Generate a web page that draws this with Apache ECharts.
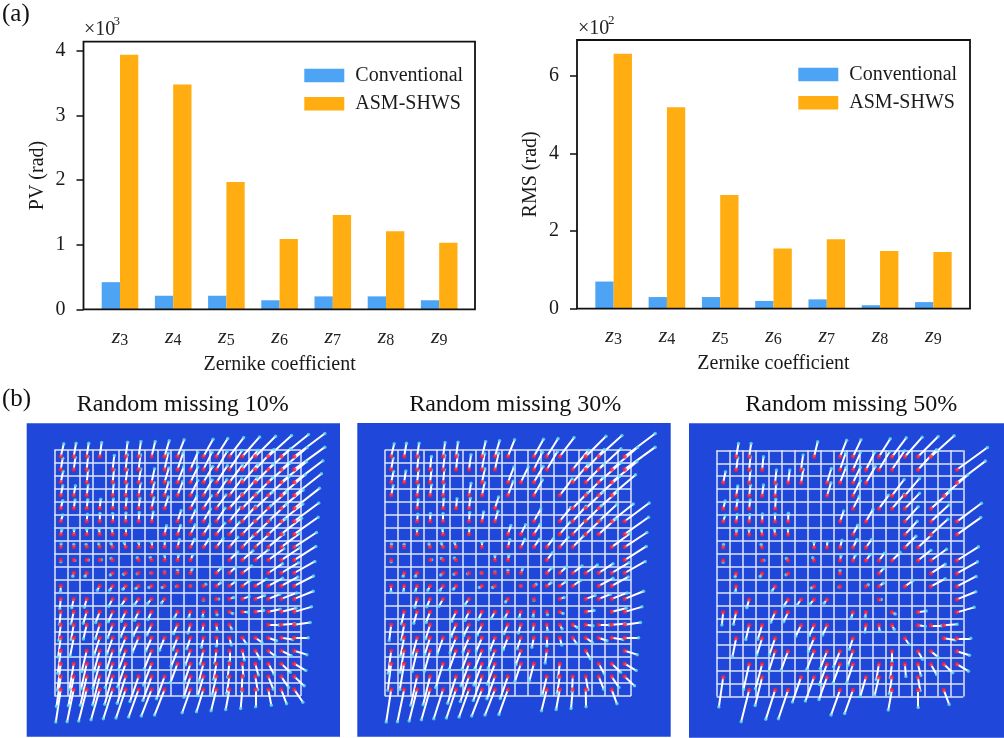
<!DOCTYPE html>
<html>
<head>
<meta charset="utf-8">
<style>html,body{margin:0;padding:0;background:#fff}#c{width:1004px;height:738px}</style>
<script src="https://cdn.jsdelivr.net/npm/echarts@6/dist/echarts.min.js"></script>
</head>
<body>
<div id="c"></div>
<script>
const zernike = ['3','4','5','6','7','8','9'];
const pvConventional = [0.42,0.21,0.21,0.14,0.20,0.20,0.14];
const pvAsm = [3.94,3.48,1.97,1.09,1.46,1.21,1.03];
const rmsConventional = [0.70,0.30,0.30,0.20,0.24,0.09,0.17];
const rmsAsm = [6.57,5.19,2.93,1.55,1.79,1.49,1.46];
const pvTicks = [0,1,2,3,4];
const rmsTicks = [0,2,4,6];

// Measured spot displacement per sub-aperture, 1 unit = 1/39 of a grid cell; +y is downwards.
const dxRows = [
[9,7,6,6,6,6,7,11,14,20,24,29,34,43,52,61,70,82,92],
[6,5,4,4,5,5,6,8,11,17,22,26,32,38,47,56,67,78,92],
[7,5,4,4,4,5,7,9,13,18,22,28,33,39,46,55,66,76,86],
[6,5,4,4,3,4,6,8,12,16,22,26,31,37,44,53,63,72,82],
[6,4,3,3,2,3,4,7,11,15,19,24,29,37,44,51,56,66,76],
[6,3,2,1,0,1,2,5,9,11,15,21,26,33,40,47,54,65,74],
[3,1,0,-2,-2,0,1,4,6,9,14,19,25,31,37,45,51,61,72],
[1,0,-2,-3,-5,-4,0,0,1,6,12,17,20,25,33,40,46,55,67],
[0,3,5,5,-5,-5,-4,-4,0,3,7,13,17,25,32,39,47,56,65],
[-1,-3,-5,-6,-7,-6,-4,-2,0,0,5,10,14,20,28,35,43,52,62],
[-1,-2,-5,-7,-9,-8,-8,-8,-7,-3,0,7,13,18,24,33,43,50,58],
[-3,-6,-7,-10,-12,-13,-12,-12,-9,-7,-3,0,7,13,20,28,35,46,57],
[-4,-8,-10,-12,-13,-13,-12,-11,-11,-9,-5,-2,2,10,16,25,36,44,52],
[-6,-8,-10,-13,-15,-15,-16,-14,-13,-12,-8,-3,2,7,14,22,32,40,48],
[-8,-11,-14,-16,-17,-18,-18,-17,-15,-14,-11,-6,0,6,12,20,25,34,42],
[-9,-12,-15,-17,-19,-21,-21,-22,-20,-19,-15,-10,-5,0,6,14,21,30,38],
[-10,-13,-17,-20,-22,-24,-24,-24,-23,-21,-18,-13,-8,-5,3,9,17,27,35],
[-13,-16,-19,-21,-24,-25,-26,-26,-24,-23,-20,-17,-13,-8,-2,7,15,22,30],
[-15,-20,-24,-26,-28,-29,-30,-31,-30,-27,-25,-21,-16,-11,-5,1,9,16,26]
];
const dyRows = [
[-38,-40,-40,-42,-42,-43,-45,-45,-47,-50,-51,-52,-54,-57,-59,-61,-63,-66,-69],
[-34,-36,-38,-39,-42,-44,-44,-47,-49,-50,-51,-52,-54,-57,-58,-60,-62,-66,-67],
[-33,-34,-36,-37,-38,-38,-40,-41,-43,-46,-46,-48,-50,-52,-54,-56,-58,-62,-65],
[-29,-29,-31,-32,-34,-35,-36,-38,-39,-42,-45,-46,-47,-49,-52,-54,-57,-62,-65],
[-23,-25,-26,-27,-28,-29,-30,-32,-34,-36,-37,-38,-40,-43,-46,-48,-50,-55,-60],
[-19,-21,-21,-23,-23,-25,-26,-28,-30,-32,-33,-37,-39,-41,-45,-47,-50,-52,-55],
[-13,-13,-14,-15,-16,-17,-18,-20,-25,-26,-28,-30,-33,-36,-40,-43,-46,-48,-51],
[-9,-8,-8,-9,-11,-13,-13,-15,-18,-22,-24,-24,-26,-30,-34,-37,-39,-41,-44],
[5,1,0,-1,-5,-6,-7,-8,-12,-14,-16,-18,-22,-24,-28,-31,-34,-37,-41],
[8,10,10,9,6,4,2,0,-3,-8,-12,-13,-15,-18,-21,-24,-28,-31,-35],
[17,15,15,13,13,10,8,5,5,2,0,-5,-10,-13,-17,-20,-23,-27,-30],
[30,27,25,24,22,20,17,14,12,9,6,4,0,-4,-7,-10,-14,-18,-23],
[38,36,34,32,30,28,25,23,20,18,16,13,9,5,1,-4,-8,-11,-15],
[47,45,43,42,39,36,33,31,29,27,25,20,17,13,8,3,1,-3,-7],
[58,55,53,50,49,46,43,40,38,36,33,29,25,22,18,14,9,5,0],
[68,66,63,62,60,57,56,55,52,47,42,40,37,32,28,24,17,15,12],
[80,78,76,74,72,70,67,64,61,57,54,51,47,41,37,34,31,26,21],
[90,88,86,85,83,80,75,72,67,66,62,58,55,50,45,40,38,33,28],
[98,97,95,91,88,86,83,80,77,75,70,67,64,60,57,52,47,43,38]
];
// 1 = sub-aperture present, one string per grid row
const present10 = [
'1111011111011111111','1110111011111111111','1010111111111111111','1110111111111111111',
'1111111110111111111','1011111101111111111','1111110011111111111','1111111111111111111',
'1111101111100111111','0110111111101110111','1001111111111111111','1110111110011111111',
'1111111101111111111','1111111101111100111','1101111111111111111','1011110101111111111',
'1111110101111111111','1111111110111111111','1111111110111111111'];
const present30 = [
'1110110111011101101','1011111110011011111','1111100101110011110','1011101101010101110',
'0010111010000011100','0011101110010111111','0010101001110111101','1101110101111110011',
'1001110011001000001','0110111111101111111','1111110110111110110','0011101001010101111',
'0111011111111101011','1101011101111111111','0111111111111111111','1111011110101001001',
'1100101110110100111','0011011111001111111','1111111111001111010'];
const present50 = [
'0110000101101111100','0111001001111101001','1010111011110000001','0111100010100110010',
'1110100000101110100','1111110001010010101','0111110000100010101','1001000111110011000',
'1001010101111101101','0101010001001000101','0100100101011010101','0010011110001000001',
'1100110000110101001','0011001110011101110','0101100100100010011','0000110111100101101',
'0011000011101111111','1001001110011101000','0010110001100101010'];
const panelTitles = ['Random missing 10%','Random missing 30%','Random missing 50%'];
const panelMasks = [present10,present30,present50];

const serif = '"Liberation Serif","Times New Roman",serif';
const BLUE = '#4da3f4', ORANGE = '#ffad10';
const bars = [
 {frame:[83.5,41.7,391.5,267.6], band:[93.4,372.4], top:4.144, ticks:pvTicks, name:'PV (rad)', unit:'3',
  a:pvConventional, b:pvAsm, legend:[299.3,60.5], mult:[84,32,113.5,22], nameGap:36},
 {frame:[577,40,393,268.7], band:[587,373], top:6.925, ticks:rmsTicks, name:'RMS (rad)', unit:'2',
  a:rmsConventional, b:rmsAsm, legend:[793.3,59.5], mult:[578,31,608,21], nameGap:36}
];
const panels = [
 {rect:[26.7,423.3,313.3,313.4], grid:[54.3,450,246.4,246], tx:182.2},
 {rect:[357.3,423,313.4,313.7], grid:[384.7,450,246.4,246], tx:514.7},
 {rect:[689,423.3,315,314.4], grid:[716.7,450.3,246.6,246.3], tx:850.8}
];

const grid=[], xAxis=[], yAxis=[], series=[], legend=[], graphic=[];
const labelStyle = {fontFamily:serif,fontSize:20,color:'#1a1a1a'};

bars.forEach((c,i)=>{
  grid.push({left:c.band[0],width:c.band[1],top:c.frame[1],height:c.frame[3]});
  xAxis.push({type:'category',gridIndex:i,data:zernike,
    axisLine:{show:false},
    axisTick:{alignWithLabel:true,length:7,lineStyle:{color:'#111',width:1.5}},
    axisLabel:{margin:17,interval:0,formatter:v=>'{z|z}{s|'+v+'}',
      rich:{z:{fontFamily:serif,fontStyle:'italic',fontSize:22,color:'#222'},
            s:{fontFamily:serif,fontSize:16,color:'#222',padding:[6,0,0,0]}}},
    name:'Zernike coefficient',nameLocation:'middle',nameGap:45,nameTextStyle:labelStyle});
  yAxis.push({type:'value',gridIndex:i,min:0,max:c.top,offset:c.band[0]-c.frame[0],
    splitLine:{show:false},axisLine:{show:false},
    axisTick:{show:true,length:7,customValues:c.ticks,lineStyle:{color:'#111',width:1.5}},
    axisLabel:{margin:18,customValues:c.ticks,fontFamily:serif,fontSize:20,color:'#1a1a1a'},
    name:c.name,nameLocation:'middle',nameGap:c.nameGap,nameRotate:90,nameTextStyle:labelStyle});
  series.push({name:'Conventional',type:'bar',xAxisIndex:i,yAxisIndex:i,data:c.a,barWidth:18.3,barGap:0,
    itemStyle:{color:BLUE},silent:true});
  series.push({name:'ASM-SHWS',type:'bar',xAxisIndex:i,yAxisIndex:i,data:c.b,barWidth:18.3,barGap:0,
    itemStyle:{color:ORANGE},silent:true});
  legend.push({orient:'vertical',left:c.legend[0],top:c.legend[1],itemWidth:40,itemHeight:13.5,itemGap:8.3,
    icon:'rect',selectedMode:false,data:['Conventional','ASM-SHWS'],
    textStyle:{fontFamily:serif,fontSize:20,color:'#1a1a1a',padding:[0,0,0,6]}});
  graphic.push({type:'rect',z:20,silent:true,shape:{x:c.frame[0],y:c.frame[1],width:c.frame[2],height:c.frame[3]},
    style:{fill:'none',stroke:'#111',lineWidth:1.8}});
  graphic.push({type:'text',z:20,left:c.mult[0],top:c.mult[1]-12,style:{text:'×10',fontFamily:serif,fontSize:20,fill:'#222'}});
  graphic.push({type:'text',z:20,left:c.mult[2],top:c.mult[3]-7,style:{text:c.unit,fontFamily:serif,fontSize:13,fill:'#222'}});
});

panels.forEach((p,k)=>{
  const gi = bars.length+k;
  graphic.push({type:'rect',z:-5,silent:true,shape:{x:p.rect[0],y:p.rect[1],width:p.rect[2],height:p.rect[3]},style:{fill:'#1f47d9'}});
  graphic.push({type:'text',z:20,left:p.tx-105.5,top:393,style:{text:panelTitles[k],fontFamily:serif,fontSize:24,fill:'#111'}});
  grid.push({left:p.grid[0],top:p.grid[1],width:p.grid[2],height:p.grid[3]});
  const gridLine={show:true,lineStyle:{color:'#dfe6fa',width:1.5}};
  xAxis.push({type:'value',gridIndex:gi,min:0,max:19,interval:1,axisLabel:{show:false},axisTick:{show:false},
    axisLine:{show:false},splitLine:gridLine});
  yAxis.push({type:'value',gridIndex:gi,min:0,max:19,interval:1,inverse:true,axisLabel:{show:false},axisTick:{show:false},
    axisLine:{show:false},splitLine:gridLine});
  const segs=[],tips=[],bases=[];
  panelMasks[k].forEach((row,r)=>{
    [...row].forEach((ch,c)=>{
      if(ch!=='1') return;
      const x=c+0.5,y=r+0.5,x2=x+dxRows[r][c]/39,y2=y+dyRows[r][c]/39;
      segs.push({coords:[[x,y],[x2,y2]]});
      tips.push([x2,y2]);
      bases.push([x,y]);
    });
  });
  series.push({type:'lines',coordinateSystem:'cartesian2d',xAxisIndex:gi,yAxisIndex:gi,data:segs,clip:false,silent:true,
    lineStyle:{color:'#ffffff',width:2,opacity:1},symbol:'none',z:3,emphasis:{disabled:true}});
  series.push({type:'scatter',xAxisIndex:gi,yAxisIndex:gi,data:tips,symbolSize:3.5,clip:false,silent:true,
    itemStyle:{color:'#62dcee'},z:4});
  series.push({type:'scatter',xAxisIndex:gi,yAxisIndex:gi,data:bases,symbolSize:4.5,clip:false,silent:true,
    itemStyle:{color:'#ff1f35'},z:5});
});

graphic.push({type:'text',left:2,top:2,style:{text:'(a)',fontFamily:serif,fontSize:25,fill:'#111'}});
graphic.push({type:'text',left:2,top:387,style:{text:'(b)',fontFamily:serif,fontSize:25,fill:'#111'}});

const chart = echarts.init(document.getElementById('c'),null,{renderer:'canvas'});
chart.setOption({animation:false,backgroundColor:'#fff',tooltip:{show:false},grid,xAxis,yAxis,series,legend,graphic});
</script>
</body>
</html>
